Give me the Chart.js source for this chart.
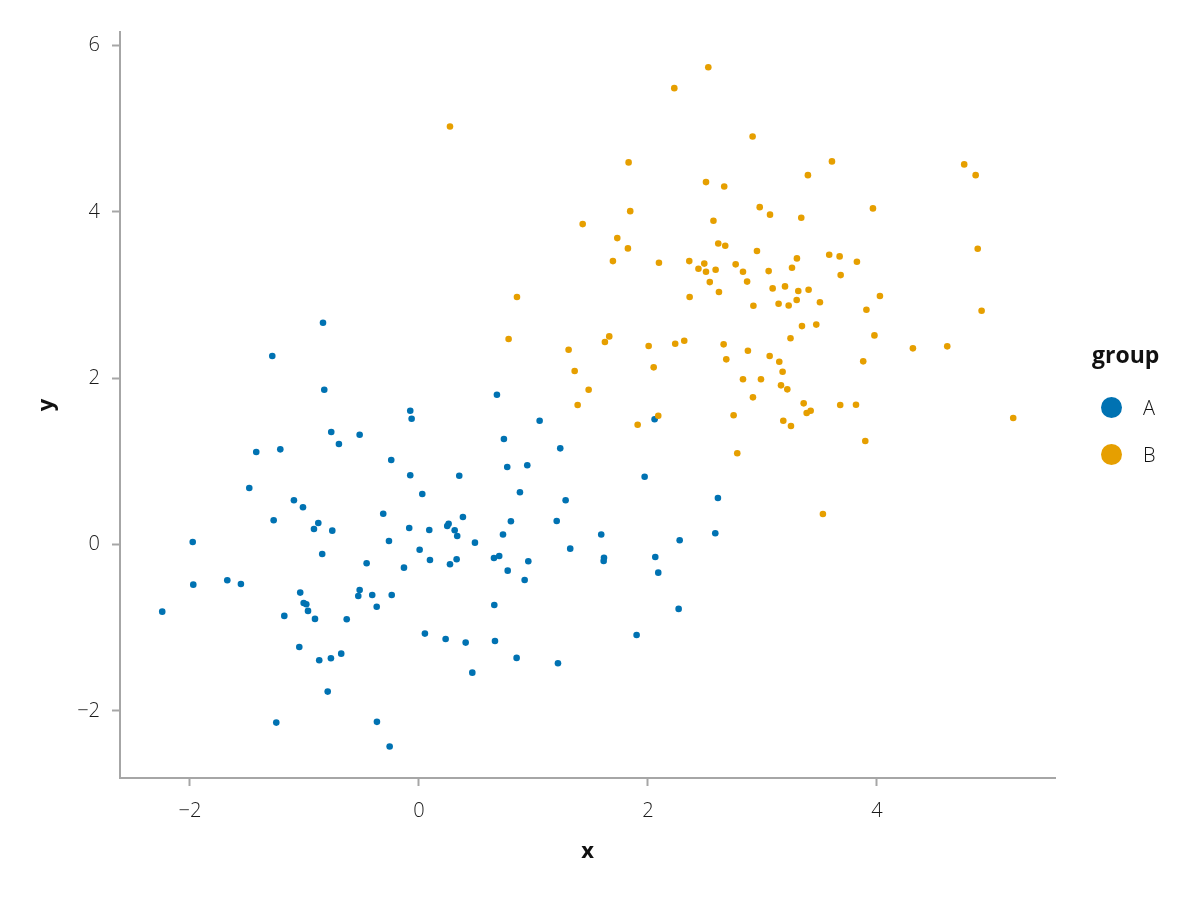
<!DOCTYPE html>
<html>
<head>
<meta charset="utf-8">
<script src="https://cdn.jsdelivr.net/npm/chart.js@4/dist/chart.umd.min.js"></script>
<style>
  body { margin: 0; background: #fff; }
  #wrap { position: relative; width: 1200px; height: 900px; }
  #chart { position: absolute; left: 0; top: 0; }
  .legend { position: absolute; left: 0; top: 0; width: 1200px; height: 900px; pointer-events: none; font-family: "Open Sans", sans-serif; color: #111; }
  .legend-title { position: absolute; left: 1092px; top: 338px; font-size: 23px; font-weight: 700; }
  .legend-item { position: absolute; left: 1101px; height: 24px; display: flex; align-items: center; font-size: 20px; font-weight: 300; }
  .legend-item span.dot { display: inline-block; width: 21px; height: 21px; border-radius: 50%; margin-right: 21px; }
</style>
</head>
<body>
<div id="wrap">
  <canvas id="chart" width="1200" height="900"></canvas>
  <div class="legend">
    <div class="legend-title">group</div>
    <div class="legend-item" style="top: 395px;"><span class="dot" style="background:#0072B2"></span>A</div>
    <div class="legend-item" style="top: 442px;"><span class="dot" style="background:#E69F00"></span>B</div>
  </div>
</div>
<script>
// group A
const groupAX = [-2.242, -1.976, -1.971, -1.674, -1.555, -1.482, -1.421, -1.281, -1.269, -1.246,
  -1.211, -1.176, -1.092, -1.045, -1.037, -1.013, -1.007, -0.984, -0.969, -0.917,
  -0.908, -0.879, -0.871, -0.845, -0.838, -0.827, -0.797, -0.769, -0.766, -0.757,
  -0.699, -0.679, -0.631, -0.518, -0.530, -0.518, -0.457, -0.408, -0.369, -0.367,
  -0.312, -0.262, -0.256, -0.242, -0.238, -0.131, -0.085, -0.076, -0.064, -0.076,
  0.006, 0.029, 0.052, 0.090, 0.096, 0.233, 0.247, 0.259, 0.271, 0.312,
  0.334, 0.329, 0.352, 0.384, 0.408, 0.466, 0.489, 0.658, 0.655, 0.664,
  0.681, 0.701, 0.734, 0.742, 0.771, 0.775, 0.803, 0.853, 0.882, 0.923,
  0.946, 0.955, 1.054, 1.203, 1.214, 1.234, 1.281, 1.321, 1.592, 1.616,
  1.613, 1.901, 1.971, 2.058, 2.064, 2.090, 2.268, 2.277, 2.588, 2.611];
const groupAY = [-0.808, 0.030, -0.483, -0.430, -0.475, 0.679, 1.112, 2.266, 0.291, -2.142,
  1.144, -0.859, 0.531, -1.232, -0.579, 0.447, -0.703, -0.719, -0.799, 0.186,
  -0.895, 0.258, -1.392, -0.114, 2.666, 1.861, -1.769, -1.368, 1.352, 0.166,
  1.208, -1.313, -0.899, 1.320, -0.619, -0.547, -0.226, -0.607, -0.748, -2.133,
  0.370, 0.042, -2.430, 1.016, -0.607, -0.279, 0.198, 1.608, 1.512, 0.832,
  -0.063, 0.607, -1.072, 0.174, -0.186, -1.136, 0.222, 0.250, -0.238, 0.171,
  0.102, -0.178, 0.827, 0.331, -1.180, -1.541, 0.022, -0.727, -0.162, -1.160,
  1.800, -0.138, 0.120, 1.268, 0.931, -0.315, 0.279, -1.364, 0.627, -0.427,
  0.952, -0.202, 1.488, 0.282, -1.428, 1.156, 0.531, -0.050, 0.120, -0.159,
  -0.198, -1.088, 0.815, 1.505, -0.150, -0.339, -0.775, 0.050, 0.135, 0.559];

// group B
const groupBX = [2.527, 2.230, 0.271, 2.914, 1.831, 2.507, 2.666, 2.976, 1.845, 1.430,
  2.572, 1.732, 2.614, 2.675, 1.825, 2.952, 1.694, 2.096, 2.361, 2.492,
  2.441, 2.507, 2.591, 2.766, 2.830, 2.540, 2.866, 3.066, 3.339, 3.965,
  2.364, 2.620, 3.054, 3.301, 3.258, 3.583, 3.674, 3.825, 3.683, 3.089,
  3.197, 3.313, 3.403, 3.299, 3.502, 4.026, 2.921, 3.141, 3.229, 3.908,
  3.345, 3.470, 3.245, 3.978, 3.607, 3.397, 4.762, 4.862, 4.880, 0.856,
  0.783, 1.307, 1.360, 1.482, 1.386, 1.624, 1.662, 2.006, 2.050, 2.238,
  2.317, 2.661, 2.684, 2.873, 2.830, 2.987, 2.917, 1.910, 2.090, 2.748,
  2.780, 4.914, 4.314, 4.614, 3.063, 3.147, 3.176, 3.162, 3.217, 3.880,
  3.360, 3.386, 3.421, 3.679, 3.817, 3.182, 3.249, 3.898, 5.190, 3.528];
const groupBY = [5.739, 5.487, 5.026, 4.906, 4.594, 4.357, 4.305, 4.056, 4.008, 3.852,
  3.892, 3.684, 3.618, 3.591, 3.560, 3.528, 3.407, 3.387, 3.407, 3.377,
  3.315, 3.279, 3.303, 3.368, 3.279, 3.155, 3.161, 3.966, 3.928, 4.041,
  2.975, 3.035, 3.287, 3.440, 3.327, 3.483, 3.464, 3.399, 3.239, 3.079,
  3.103, 3.047, 3.063, 2.939, 2.912, 2.987, 2.870, 2.894, 2.873, 2.822,
  2.626, 2.644, 2.480, 2.514, 4.606, 4.441, 4.570, 4.441, 3.555, 2.975,
  2.470, 2.341, 2.085, 1.861, 1.677, 2.434, 2.502, 2.386, 2.130, 2.413,
  2.450, 2.406, 2.226, 2.329, 1.986, 1.986, 1.769, 1.440, 1.548, 1.553,
  1.096, 2.810, 2.358, 2.382, 2.266, 2.197, 2.077, 1.913, 1.865, 2.202,
  1.697, 1.581, 1.608, 1.677, 1.680, 1.488, 1.424, 1.244, 1.520, 0.367];

const xTicks = [-2, 0, 2, 4];
const yTicks = [-2, 0, 2, 4, 6];

const toPoints = (xs, ys) => xs.map((x, i) => ({ x: x, y: ys[i] }));

const axisColor = '#a6a6a6';
const tickFont = { family: '"Open Sans", sans-serif', size: 20, weight: '300' };
const titleFont = { family: '"Open Sans", sans-serif', size: 22, weight: '700' };
const minus = v => String(v).replace('-', '\u2212');

const ctx = document.getElementById('chart').getContext('2d');
new Chart(ctx, {
  type: 'scatter',
  data: {
    datasets: [
      {
        label: 'A',
        data: toPoints(groupAX, groupAY),
        backgroundColor: '#0072B2',
        pointRadius: 3.3,
        borderWidth: 0,
        order: 1
      },
      {
        label: 'B',
        data: toPoints(groupBX, groupBY),
        backgroundColor: '#E69F00',
        pointRadius: 3.3,
        borderWidth: 0,
        order: 0
      }
    ]
  },
  options: {
    responsive: false,
    animation: false,
    layout: { padding: { top: 32, right: 145, left: 0, bottom: 0 } },
    plugins: {
      legend: { display: false },
      tooltip: { enabled: false }
    },
    scales: {
      x: {
        type: 'linear',
        min: -2.611,
        max: 5.555,
        afterFit: s => { s.height = 122; },
        afterBuildTicks: s => { s.ticks = xTicks.map(v => ({ value: v })); },
        ticks: { stepSize: 2, includeBounds: false, font: tickFont, color: '#1a1a1a', padding: 13, callback: minus, maxRotation: 0 },
        grid: { drawOnChartArea: false, tickLength: 8, tickColor: axisColor, tickWidth: 2 },
        border: { display: true, color: axisColor, width: 2 },
        title: { display: true, text: 'x', font: titleFont, color: '#111', padding: { top: 0, bottom: 35 } }
      },
      y: {
        type: 'linear',
        min: -2.808,
        max: 6.162,
        afterFit: s => { s.width = 120; },
        afterBuildTicks: s => { s.ticks = yTicks.map(v => ({ value: v })); },
        ticks: { stepSize: 2, includeBounds: false, font: tickFont, color: '#1a1a1a', padding: 12, callback: minus },
        grid: { drawOnChartArea: false, tickLength: 8, tickColor: axisColor, tickWidth: 2 },
        border: { display: true, color: axisColor, width: 2 },
        title: { display: true, text: 'y', font: titleFont, color: '#111', padding: { top: 34, bottom: 0 } }
      }
    }
  }
});
</script>
</body>
</html>
